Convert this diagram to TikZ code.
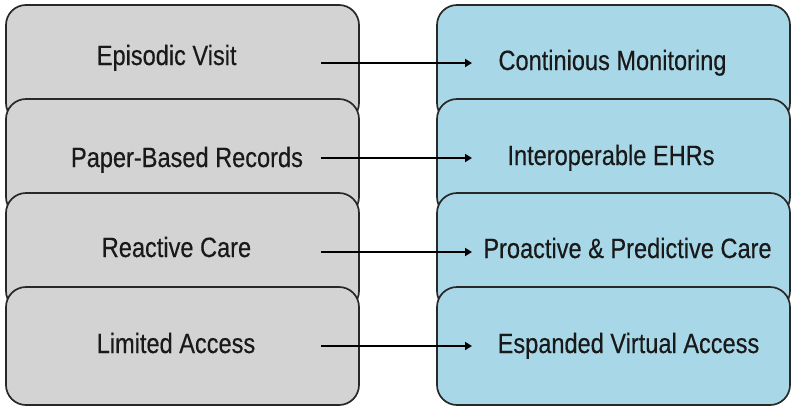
\documentclass[tikz,border=0pt]{standalone}
\usepackage{fontspec}
\usetikzlibrary{arrows.meta}
\newfontfamily\boxfont[FakeStretch=0.845,FakeBold=0.4]{Liberation Sans}
\definecolor{boxgray}{RGB}{211,211,211}
\definecolor{boxblue}{RGB}{168,216,232}
\definecolor{edgecol}{RGB}{40,40,40}
\tikzset{
  basebox/.style={draw=edgecol, line width=1.7pt, rounded corners=20pt,
    minimum width=353pt, minimum height=118pt, inner sep=0pt},
  leftbox/.style={basebox, fill=boxgray},
  rightbox/.style={basebox, fill=boxblue},
  boxtext/.style={anchor=base, inner sep=0pt, text=black!90,
    font=\boxfont\fontsize{27.9}{30}\selectfont},
  conn/.style={line width=2.8pt, black, -{Triangle[length=7pt,width=8pt]}}
}
\begin{document}
\begin{tikzpicture}[x=1pt,y=-1pt]
\useasboundingbox (0,0) rectangle (797,413);
% left column
\node[leftbox] (L1) at (182.5,64) {};
\node[leftbox] (L2) at (182.5,158) {};
\node[leftbox] (L3) at (182.5,252) {};
\node[leftbox] (L4) at (182.5,346) {};
% right column
\node[rightbox] (R1) at (613.5,64) {};
\node[rightbox] (R2) at (613.5,158) {};
\node[rightbox] (R3) at (613.5,252) {};
\node[rightbox] (R4) at (613.5,346) {};
% texts
\node[boxtext] (tL1) at (166.7,65) {Episodic Visit};
\node[boxtext] (tL2) at (187,167) {Paper-Based Records};
\node[boxtext] (tL3) at (176.5,257) {Reactive Care};
\node[boxtext] (tL4) at (176,353) {Limited Access};
\node[boxtext] (tR1) at (612.5,70) {Continious Monitoring};
\node[boxtext] (tR2) at (611,165) {Interoperable EHRs};
\node[boxtext] (tR3) at (627.5,258) {Proactive \& Predictive Care};
\node[boxtext] (tR4) at (628.5,353) {Espanded Virtual Access};
% arrow ends
\coordinate (s1) at (321,63);  \coordinate (e1) at (472,63);
\coordinate (s2) at (321,158); \coordinate (e2) at (472,158);
\coordinate (s3) at (321,252); \coordinate (e3) at (472,252);
\coordinate (s4) at (321,346); \coordinate (e4) at (472,346);
\draw[conn] (s1) -- (e1);
\draw[conn] (s2) -- (e2);
\draw[conn] (s3) -- (e3);
\draw[conn] (s4) -- (e4);
\end{tikzpicture}
\end{document}
